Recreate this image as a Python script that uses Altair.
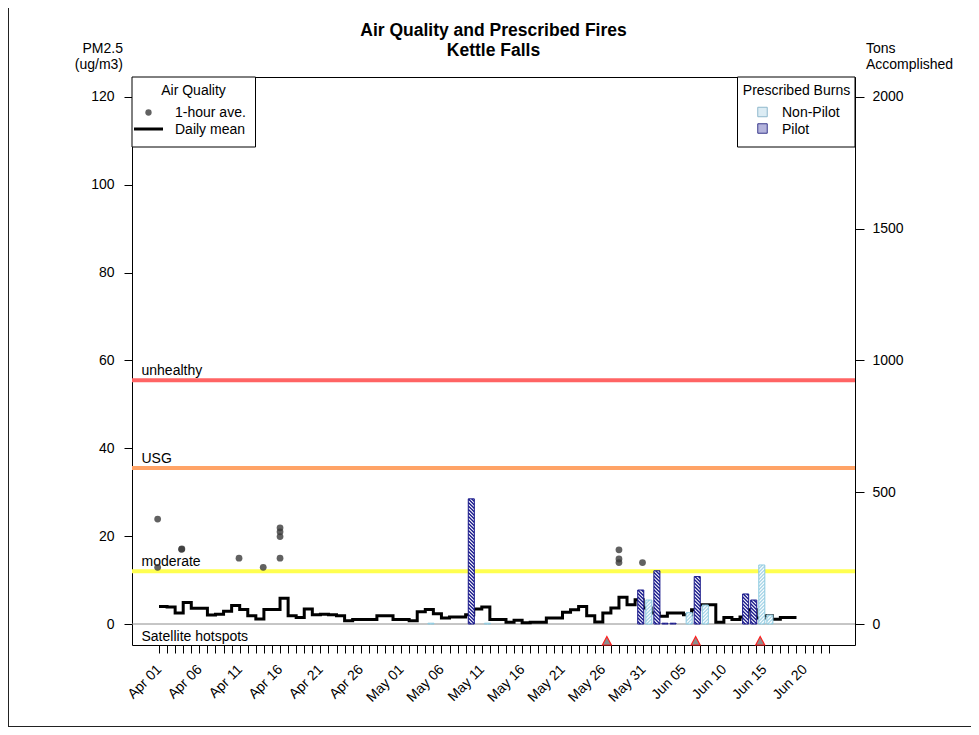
import altair as alt
import pandas as pd
import numpy as np

# ---------------- data ----------------
START = "2021-04-01"
LAST_TICK = "2021-06-23"

DAILY_MEAN = [4.0, 3.9, 2.5, 4.9, 3.6, 3.6, 2.05, 2.2, 2.9, 4.2,
              3.3, 1.9, 1.15, 3.3, 3.3, 5.85, 1.9, 1.5, 3.4, 2.1,
              2.2, 2.1, 1.9, 0.76, 1.0, 1.0, 1.0, 1.9, 1.9, 1.0,
              1.0, 0.76, 2.8, 3.3, 2.35, 1.37, 1.6, 1.6, 2.1, 3.4,
              3.9, 1.0, 1.0, 0.4, 0.85, 0.3, 0.4, 0.4, 1.37, 1.37,
              2.65, 3.25, 4.0, 1.9, 0.45, 2.5, 3.65, 6.1, 4.4, 5.5,
              3.65, 2.5, 1.75, 2.5, 2.5, 2.1, 3.25, 4.4, 4.4, 0.4,
              1.5, 1.0, 1.6, 3.25, 1.37, 1.9, 1.1, 1.5, 1.5]

HOURLY_TIMES = ["2021-03-31 20:00", "2021-03-31 20:00", "2021-04-03 19:00",
                "2021-04-03 20:00", "2021-04-10 22:00", "2021-04-13 22:00",
                "2021-04-16 00:00", "2021-04-16 00:00", "2021-04-16 00:00",
                "2021-04-16 00:00", "2021-05-28 00:00", "2021-05-28 00:00",
                "2021-05-28 00:00", "2021-05-30 22:00"]
HOURLY_VALUES = [23.9, 12.9, 17.0, 17.1, 15.0, 12.9, 21.9, 21.0, 19.9, 15.0,
                 16.9, 14.8, 14.0, 14.0]

PILOT_DATES = ["2021-05-09", "2021-05-30", "2021-06-01", "2021-06-02",
               "2021-06-03", "2021-06-06", "2021-06-12", "2021-06-13"]
PILOT_TONS = [475, 129, 202, 3, 3, 180, 114, 91]
NONPILOT_DATES = ["2021-05-04", "2021-05-11", "2021-05-31", "2021-06-05",
                  "2021-06-07", "2021-06-14", "2021-06-15"]
NONPILOT_TONS = [3, 3, 91, 43, 72, 224, 34]

HOTSPOT_DATES = ["2021-05-26", "2021-06-06", "2021-06-14"]

THRESH_NAMES = ["moderate", "USG", "unhealthy"]
THRESH_VALUES = [12.0, 35.5, 55.5]
THRESH_COLORS = ["#FFFF50", "#FFA366", "#FF6464"]

Y_TICKS = [0, 20, 40, 60, 80, 100, 120]
Y2_TICKS = [0, 500, 1000, 1500, 2000]

# ---------------- layout / style ----------------
W, H = 723, 568
X_DOMAIN = [-3.346, 86.25]
Y_DOMAIN = [-4.78, 124.55]
TONS_PER_UG = 2000 / 120
Y2_DOMAIN = [v * TONS_PER_UG for v in Y_DOMAIN]
BAR_SHIFT = 0.7
BAR_W = 0.75
HOT_SHIFT = 0.5
FONT = "Liberation Sans"
FS = 14
PILOT_COL = "#1a1a8c"
NONPILOT_COL = "#a9d6e8"

t0 = pd.Timestamp(START)


def to_day(values):
    return ((pd.to_datetime(pd.Series(values)) - t0) / pd.Timedelta(days=1)).tolist()


daily_days = list(range(len(DAILY_MEAN)))
daily = pd.DataFrame({"day": daily_days + [len(DAILY_MEAN)],
                      "pm": DAILY_MEAN + [DAILY_MEAN[-1]]})
hourly = pd.DataFrame({"day": to_day(HOURLY_TIMES), "pm": HOURLY_VALUES})

bars = pd.DataFrame({
    "type": ["Pilot"] * len(PILOT_DATES) + ["Non-Pilot"] * len(NONPILOT_DATES),
    "center": [d + BAR_SHIFT for d in to_day(PILOT_DATES) + to_day(NONPILOT_DATES)],
    "tons": PILOT_TONS + NONPILOT_TONS,
})
bars["x0"] = bars["center"] - BAR_W / 2
bars["x1"] = bars["center"] + BAR_W / 2
bars["zero"] = 0.0

hot = pd.DataFrame({"day": [d + HOT_SHIFT for d in to_day(HOTSPOT_DATES)]})
thr = pd.DataFrame({"name": THRESH_NAMES, "value": THRESH_VALUES})
zero_df = pd.DataFrame({"v": [0.0]})
one = pd.DataFrame({"k": [0]})

px_per_day = W / (X_DOMAIN[1] - X_DOMAIN[0])
px_per_ton = H / (Y2_DOMAIN[1] - Y2_DOMAIN[0])


def make_stripes(df, slope_sign, spacing_px):
    rows = []
    rise = BAR_W * px_per_day / px_per_ton
    step = spacing_px / px_per_ton
    for _, r in df.iterrows():
        h = r["tons"]
        xl = r["x0"]
        s0 = -rise
        while s0 < h + rise:
            if slope_sign > 0:
                lo = max(0.0, (0 - s0) / rise)
                hi = min(1.0, (h - s0) / rise)
            else:
                lo = max(0.0, (s0 - h) / rise)
                hi = min(1.0, s0 / rise)
            if hi - lo > 0.05:
                rows.append({"sx1": xl + BAR_W * lo, "sx2": xl + BAR_W * hi,
                             "sy1": s0 + slope_sign * rise * lo,
                             "sy2": s0 + slope_sign * rise * hi})
            s0 += step
    return pd.DataFrame(rows, columns=["sx1", "sx2", "sy1", "sy2"])


stripes = pd.concat([
    make_stripes(bars[bars["type"] == "Pilot"], -1, 3.5),
    make_stripes(bars[bars["type"] == "Non-Pilot"], 1, 3.5),
], ignore_index=True)

# ---------------- scales / axes ----------------
tick_dates = pd.date_range(START, LAST_TICK, freq="D")
tick_vals = list(range(len(tick_dates)))
tick_labels = [d.strftime("%b %d") if i % 5 == 0 else "" for i, d in enumerate(tick_dates)]
label_expr = "[" + ",".join("'" + s + "'" for s in tick_labels) + "][datum.value]"

xscale = alt.Scale(domain=X_DOMAIN, nice=False, zero=False)
yscale = alt.Scale(domain=Y_DOMAIN, nice=False, zero=False)
y2scale = alt.Scale(domain=Y2_DOMAIN, nice=False, zero=False)

xaxis = alt.Axis(values=tick_vals, labelExpr=label_expr, labelAngle=-45,
                 labelAlign="right", labelBaseline="middle", labelPadding=14,
                 tickSize=8, tickColor="black", labelColor="black",
                 labelFont=FONT, labelFontSize=FS, domain=False, grid=False,
                 title=None, labelOverlap=False, labelBound=False, labelFlush=False)
yaxis = alt.Axis(values=Y_TICKS, orient="left", tickSize=8, labelPadding=10,
                 tickColor="black", labelColor="black", labelFont=FONT,
                 labelFontSize=FS, domain=False, grid=False, title=None, format="d")
y2axis = alt.Axis(values=Y2_TICKS, orient="right", tickSize=9, labelPadding=8,
                  tickColor="black", labelColor="black", labelFont=FONT,
                  labelFontSize=FS, domain=False, grid=False, title=None, format="d")


def X(f):
    return alt.X(f, type="quantitative", scale=xscale, axis=xaxis)


def Y(f):
    return alt.Y(f, type="quantitative", scale=yscale, axis=yaxis)


def Y2(f):
    return alt.Y(f, type="quantitative", scale=y2scale, axis=y2axis)


def txt(text, x, y, align="left", size=FS, weight="normal"):
    return alt.Chart(one).mark_text(text=text, align=align, baseline="alphabetic",
                                    font=FONT, fontSize=size, fontWeight=weight,
                                    color="black").encode(x=alt.value(x), y=alt.value(y))


# ---------------- layer A (ug/m3) ----------------
zero_rule = alt.Chart(zero_df).mark_rule(color="#8c8c8c", strokeWidth=1).encode(y=Y("v"))
thr_rules = alt.Chart(thr).mark_rule(strokeWidth=4).encode(
    y=Y("value"),
    color=alt.Color("name:N", scale=alt.Scale(domain=THRESH_NAMES, range=THRESH_COLORS), legend=None))
thr_text = alt.Chart(thr).mark_text(align="left", baseline="alphabetic", dy=-5,
                                    font=FONT, fontSize=FS, color="black").encode(
    x=alt.value(9.5), y=Y("value"), text="name:N")
line = alt.Chart(daily).mark_line(interpolate="step-after", color="black",
                                  strokeWidth=3).encode(x=X("day"), y=Y("pm"))
pts = alt.Chart(hourly).mark_circle(size=46, color="#3a3a3a", opacity=0.8).encode(
    x=X("day"), y=Y("pm"))
hots = alt.Chart(hot).mark_point(shape="M-1,1L0,-0.9L1,1Z", size=81, filled=True,
                                 fill="#8c8c8c", stroke="#ff2020", strokeWidth=1.2,
                                 fillOpacity=1, strokeOpacity=1).encode(
    x=X("day"), y=alt.value(563.5))
sat_text = txt("Satellite hotspots", 9.5, 564)

# legend: Air Quality
legA_box = alt.Chart(one).mark_rect(fill="white", stroke="black", strokeWidth=1).encode(
    x=alt.value(0), x2=alt.value(123.5), y=alt.value(0), y2=alt.value(70))
legA_title = txt("Air Quality", 61.5, 17.5, align="center")
legA_pt = alt.Chart(one).mark_circle(size=40, color="#3a3a3a", opacity=0.8).encode(
    x=alt.value(16.5), y=alt.value(35.5))
legA_t1 = txt("1-hour ave.", 43, 40)
legA_line = alt.Chart(one).mark_rule(color="black", strokeWidth=3).encode(
    x=alt.value(2), x2=alt.value(31), y=alt.value(52), y2=alt.value(52))
legA_t2 = txt("Daily mean", 43, 56.5)

# legend: Prescribed Burns
legB_box = alt.Chart(one).mark_rect(fill="white", stroke="black", strokeWidth=1).encode(
    x=alt.value(605.5), x2=alt.value(723), y=alt.value(0), y2=alt.value(70))
legB_title = txt("Prescribed Burns", 664.5, 17.5, align="center")
legB_sq1 = alt.Chart(one).mark_point(shape="square", size=90, filled=True,
                                     fill="#dcecf4", stroke="#8fb8cc", strokeWidth=1,
                                     fillOpacity=1).encode(x=alt.value(630.5), y=alt.value(35))
legB_sq2 = alt.Chart(one).mark_point(shape="square", size=90, filled=True,
                                     fill="#b4b4dc", stroke="#3a3a8c", strokeWidth=1,
                                     fillOpacity=1).encode(x=alt.value(630.5), y=alt.value(51.5))
legB_t1 = txt("Non-Pilot", 650, 40)
legB_t2 = txt("Pilot", 650, 56.5)

# titles
title1 = txt("Air Quality and Prescribed Fires", 361.5, -41, align="center", size=17.5, weight="bold")
title2 = txt("Kettle Falls", 361.5, -21, align="center", size=17.5, weight="bold")
ylab1 = txt("PM2.5", -9, -24, align="right")
ylab2 = txt("(ug/m3)", -9, -8, align="right")
y2lab1 = txt("Tons", 734, -24)
y2lab2 = txt("Accomplished", 734, -8)

# page frame
frame_left = alt.Chart(one).mark_rule(color="#222", strokeWidth=1).encode(
    x=alt.value(-123.5), x2=alt.value(-123.5), y=alt.value(-69), y2=alt.value(650))
frame_bottom = alt.Chart(one).mark_rule(color="#222", strokeWidth=1).encode(
    x=alt.value(-124), x2=alt.value(847), y=alt.value(649.5), y2=alt.value(649.5))

layerA = alt.layer(zero_rule, thr_rules, thr_text, line, pts, hots, sat_text,
                   legA_box, legA_title, legA_pt, legA_t1, legA_line, legA_t2,
                   legB_box, legB_title, legB_sq1, legB_sq2, legB_t1, legB_t2,
                   title1, title2, ylab1, ylab2, y2lab1, y2lab2,
                   frame_left, frame_bottom)

# ---------------- layer B (tons) ----------------
type_dom = ["Non-Pilot", "Pilot"]
bar_fill = alt.Chart(bars).mark_rect().encode(
    x=X("x0"), x2="x1", y=Y2("zero"), y2="tons",
    fill=alt.Fill("type:N", scale=alt.Scale(domain=type_dom, range=[NONPILOT_COL, PILOT_COL]), legend=None))
bar_stripes = alt.Chart(stripes).mark_rule(color="white", strokeWidth=1.1, strokeCap="butt").encode(
    x=X("sx1"), x2="sx2", y=Y2("sy1"), y2="sy2")
bar_border = alt.Chart(bars).mark_rect(fillOpacity=0, strokeWidth=1).encode(
    x=X("x0"), x2="x1", y=Y2("zero"), y2="tons",
    stroke=alt.Stroke("type:N", scale=alt.Scale(domain=type_dom, range=["#8fcbe0", PILOT_COL]), legend=None))

layerB = alt.layer(bar_fill, bar_stripes, bar_border)

chart = alt.layer(layerA, layerB).resolve_scale(y="independent").properties(
    width=W, height=H,
    autosize=alt.AutoSizeParams(type="none"),
    padding={"left": 124, "top": 69, "right": 116, "bottom": 83},
).configure_view(stroke="black", strokeWidth=1)

chart.save("out.html", embed_options={"renderer": "svg", "actions": False})
